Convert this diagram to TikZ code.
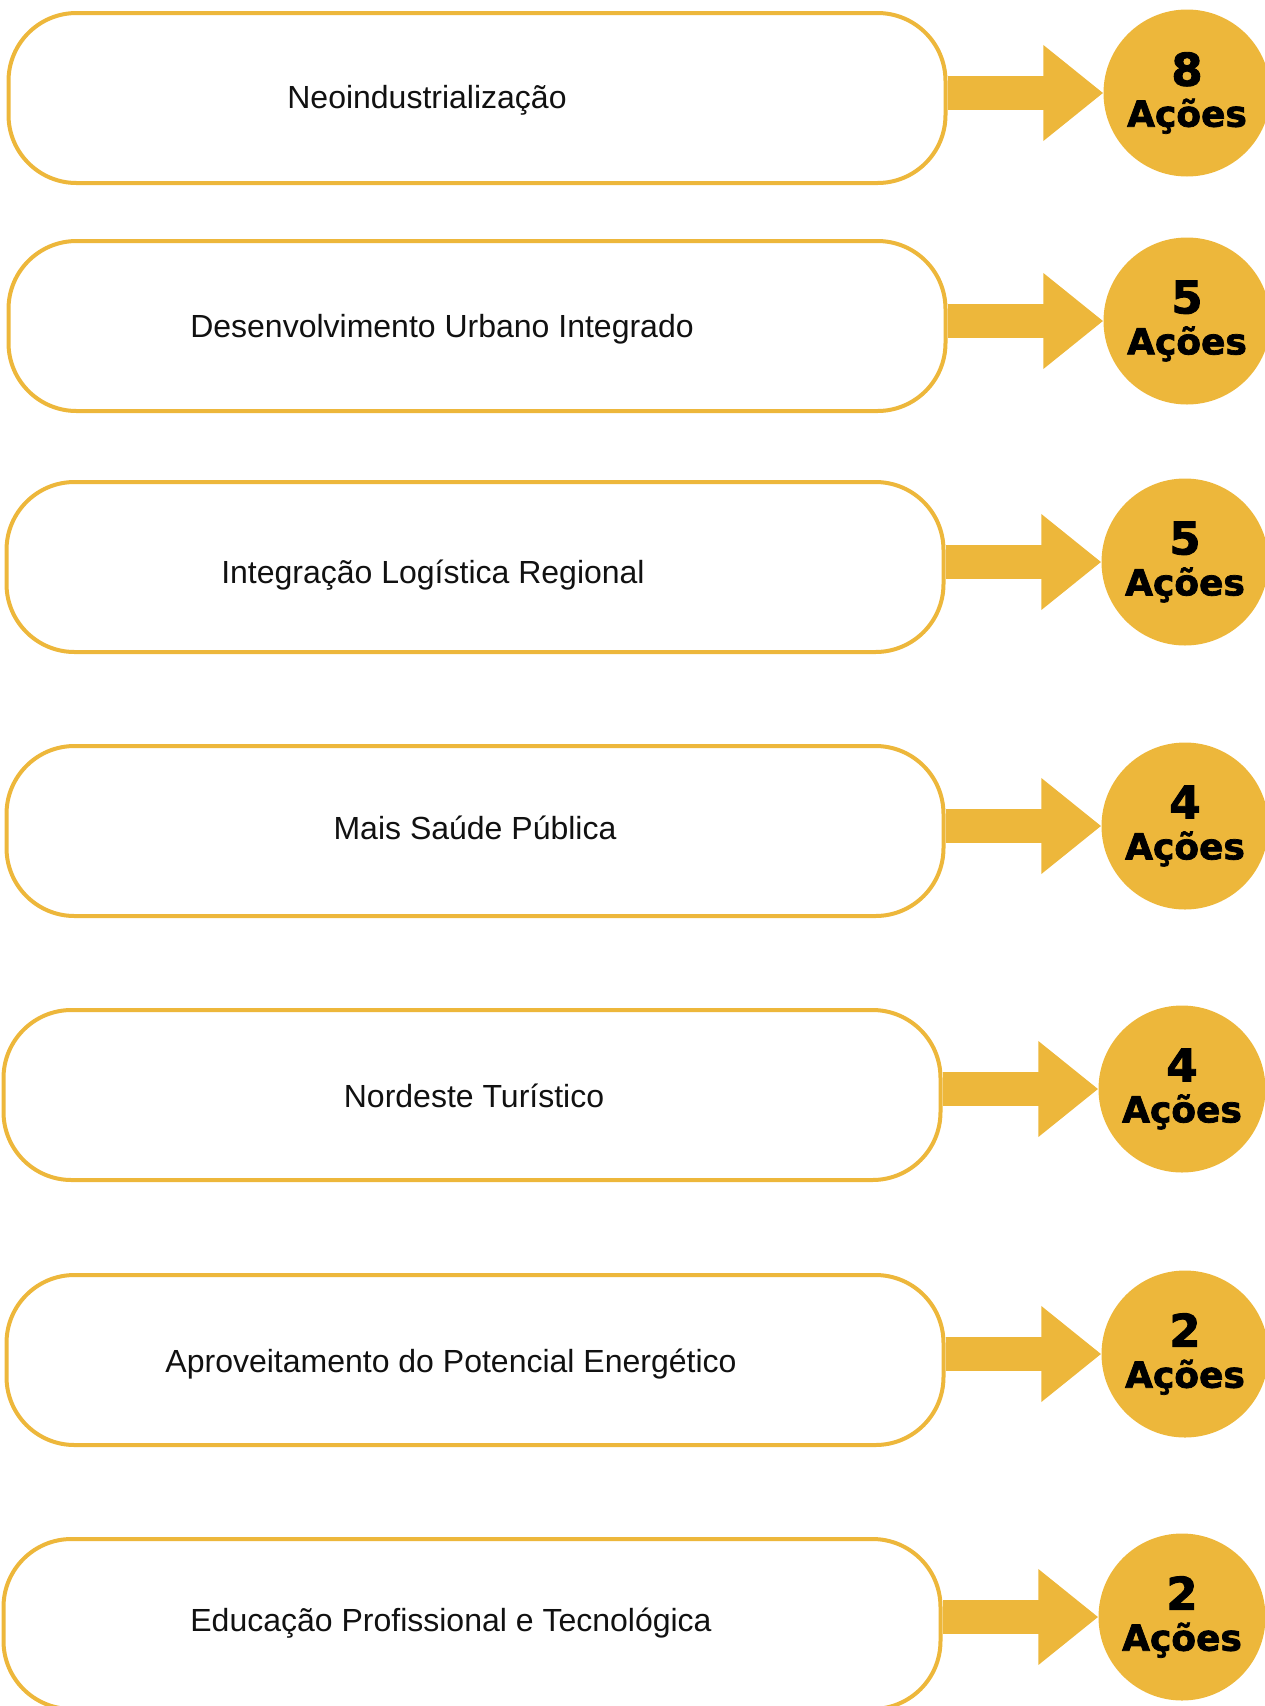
\documentclass[tikz,border=0pt]{standalone}
\usepackage{fontspec}
\setmainfont{Liberation Sans}
\newfontfamily\heavyfont{DejaVu Sans}[BoldFeatures={FakeBold=2}]
\usetikzlibrary{arrows.meta}
\definecolor{gold}{HTML}{EDB73B}
\definecolor{ink}{HTML}{111111}

\begin{document}
\begin{tikzpicture}[
  x=1pt, y=-1pt,
  axis/.style={
    draw=gold, line width=4pt, fill=white, rounded corners=68pt,
    minimum width=937pt, minimum height=170pt, inner sep=0pt
  },
  axislabel/.style={font=\fontsize{32}{38}\selectfont, text=ink, inner sep=0pt, anchor=base},
  count/.style={
    circle, fill=gold, minimum size=167pt, inner sep=0pt,
    align=center, text=black, font=\heavyfont\bfseries\fontsize{36}{41}\selectfont
  },
  push/.style={draw=gold, line width=34pt, -{Triangle[length=60pt,width=92pt]}}
]
  \useasboundingbox (0,0) rectangle (1265,1706);

  % one row per axis: box, label, arrow, count of actions
  \foreach \i/\yb/\yc/\dx/\tx/\ty/\lbl/\n in {
      1/98/93/0/427/108/{Neoindustrialização}/8,
      2/326/321/0/442/337/{Desenvolvimento Urbano Integrado}/5,
      3/567/562/-2/433/583/{Integração Logística Regional}/5,
      4/831/826/-2/475/839/{Mais Saúde Pública}/4,
      5/1095/1089/-5/474/1107/{Nordeste Turístico}/4,
      6/1360/1354/-2/451/1372/{Aproveitamento do Potencial Energético}/2,
      7/1624/1617/-5/451/1631/{Educação Profissional e Tecnológica}/2} {
    \node[axis] (box\i) at (477+\dx,\yb) {};
    \node[axislabel] (txt\i) at (\tx,\ty) {\lbl};
    \node[count] (num\i) at (1187+\dx,\yc) {{\fontsize{45}{41}\selectfont \n}\\Ações};
    \draw[push] (box\i.east |- num\i.west) -- (num\i.west);
  }
\end{tikzpicture}
\end{document}
